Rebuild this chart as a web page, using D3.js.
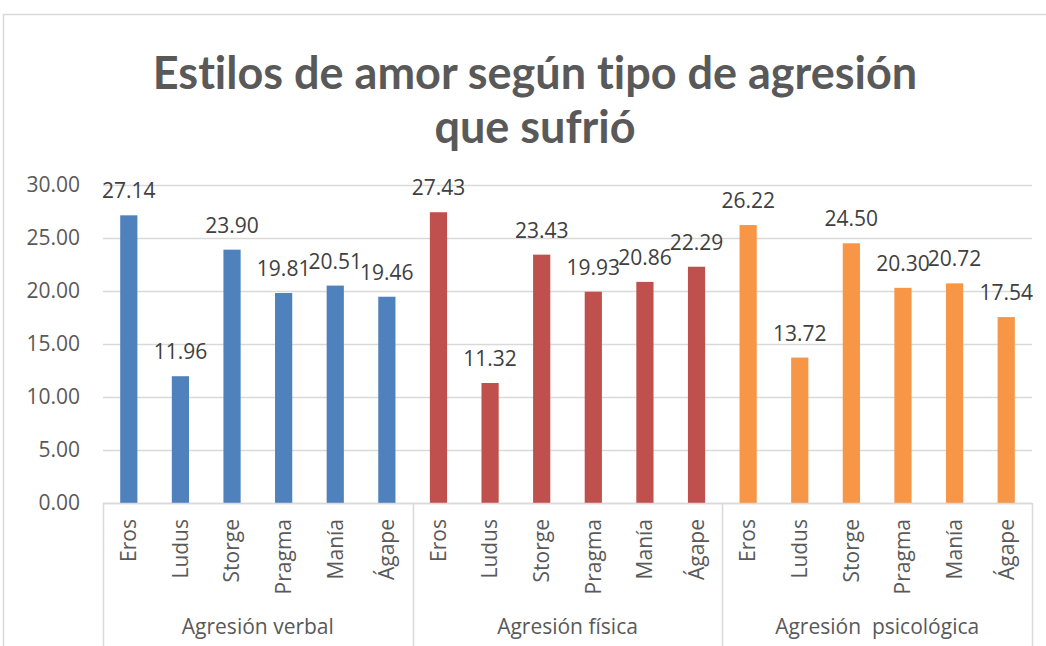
<!DOCTYPE html>
<html lang="es">
	<head>
		<meta charset="UTF-8">
		<title>Estilos de amor</title>
		<script src="https://cdnjs.cloudflare.com/ajax/libs/d3/7.8.5/d3.min.js"></script>
		<style>
			body { margin: 0; background: #fff; }
			text { font-family: "Open Sans", sans-serif; fill: #595959; }
		</style>
	</head>
	<body>
		<svg id="chart" width="1046" height="646"></svg>
		<script>
var titleLines = ["Estilos de amor según tipo de agresión", "que sufrió"];
var groups = ["Agresión verbal", "Agresión física", "Agresión  psicológica"];
var categories = ["Eros", "Ludus", "Storge", "Pragma", "Manía", "Ágape"];
var verbal = [27.14, 11.96, 23.90, 19.81, 20.51, 19.46];
var fisica = [27.43, 11.32, 23.43, 19.93, 20.86, 22.29];
var psicologica = [26.22, 13.72, 24.50, 20.30, 20.72, 17.54];
var yTicks = [0, 5, 10, 15, 20, 25, 30];
var colors = ["#4F81BD", "#C0504D", "#F79646"];

var series = [verbal, fisica, psicologica];

var svg = d3.select("#chart");
var pLeft = 103, pRight = 1032, pTop = 185, pBottom = 503;
var fs = "21px";

// chart border
svg.append("rect")
	.attr("x", 3.5).attr("y", 14.5)
	.attr("width", 1100).attr("height", 700)
	.attr("fill", "none")
	.attr("stroke", "#D9D9D9")
	.attr("stroke-width", 1.5);

var title = svg.append("text")
	.attr("text-anchor", "middle")
	.style("font-family", "Lato, sans-serif")
	.style("font-weight", "bold")
	.style("font-size", "45px")
	.style("font-variant-ligatures", "none");
title.selectAll("tspan")
	.data(titleLines)
	.enter()
	.append("tspan")
	.attr("x", 535)
	.attr("y", (d, i) => 89 + i * 54)
	.text(d => d);

var scY = d3.scaleLinear().domain([0, 30]).range([pBottom, pTop]);
var scG = d3.scaleBand().domain(groups).range([pLeft, pRight]);
var scC = d3.scaleBand().domain(categories).range([0, scG.bandwidth()]);
var barW = scC.bandwidth() / 3;

// gridlines
svg.append("g")
	.selectAll("line")
	.data(yTicks)
	.enter()
	.append("line")
	.attr("x1", pLeft).attr("x2", pRight)
	.attr("y1", d => Math.round(scY(d)) + 0.5)
	.attr("y2", d => Math.round(scY(d)) + 0.5)
	.attr("stroke", "#D9D9D9")
	.attr("stroke-width", 1.5);

svg.append("g")
	.selectAll("text")
	.data(yTicks)
	.enter()
	.append("text")
	.attr("x", 80)
	.attr("y", d => scY(d))
	.attr("dy", "0.35em")
	.attr("text-anchor", "end")
	.style("font-size", fs)
	.text(d => d.toFixed(2));

// bars + labels
series.forEach((vals, gi) => {
	var g = svg.append("g")
		.attr("transform", "translate(" + scG(groups[gi]) + ",0)");

	g.selectAll("rect")
		.data(vals)
		.enter()
		.append("rect")
		.attr("x", (d, i) => scC(categories[i]) + scC.bandwidth() / 2 - barW / 2)
		.attr("y", d => scY(d))
		.attr("width", barW)
		.attr("height", d => scY(0) - scY(d))
		.attr("fill", colors[gi]);

	g.selectAll("text.val")
		.data(vals)
		.enter()
		.append("text")
		.attr("class", "val")
		.attr("x", (d, i) => scC(categories[i]) + scC.bandwidth() / 2)
		.attr("y", d => scY(d) - 17)
		.attr("text-anchor", "middle")
		.style("font-size", fs)
		.style("fill", "#404040")
		.text(d => d.toFixed(2));

	g.selectAll("text.cat")
		.data(categories)
		.enter()
		.append("text")
		.attr("class", "cat")
		.attr("transform", d => "translate(" + (scC(d) + scC.bandwidth() / 2) + ",519) rotate(-90)")
		.attr("dy", "0.35em")
		.attr("text-anchor", "end")
		.style("font-size", fs)
		.text(d => d);
});

// category axis lines
svg.append("line")
	.attr("x1", pLeft).attr("x2", pRight)
	.attr("y1", pBottom + 0.5).attr("y2", pBottom + 0.5)
	.attr("stroke", "#D9D9D9").attr("stroke-width", 1.5);

var seps = groups.map(g => scG(g)).concat([pRight]);
svg.append("g")
	.selectAll("line")
	.data(seps)
	.enter()
	.append("line")
	.attr("x1", d => Math.round(d) + 0.5).attr("x2", d => Math.round(d) + 0.5)
	.attr("y1", pBottom).attr("y2", 646)
	.attr("stroke", "#D9D9D9").attr("stroke-width", 1.5);

svg.append("g")
	.selectAll("text")
	.data(groups)
	.enter()
	.append("text")
	.attr("x", d => scG(d) + scG.bandwidth() / 2)
	.attr("y", 627)
	.attr("dy", "0.35em")
	.attr("text-anchor", "middle")
	.style("font-size", fs)
	.style("white-space", "pre")
	.text(d => d);
		</script>
	</body>
</html>
